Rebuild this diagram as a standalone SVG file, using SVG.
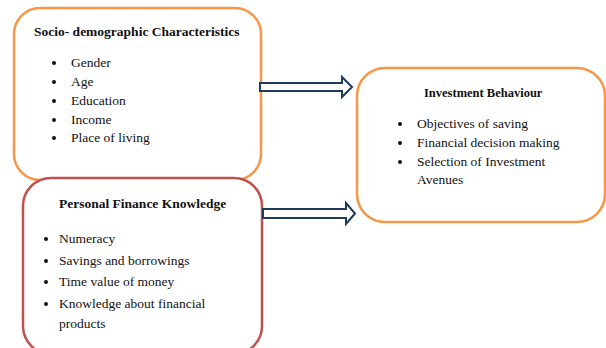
<svg xmlns="http://www.w3.org/2000/svg" width="606" height="348" viewBox="0 0 606 348">
  <defs>
    <style>
      .box { fill: #ffffff; stroke-width: 2.5; }
      .orange { stroke: #F79646; }
      .red { stroke: #C0504D; }
      .title { font-family: "Liberation Serif", "Times New Roman", serif; font-size: 13.5px; font-weight: bold; fill: #111111; }
      .item { font-family: "Liberation Serif", "Times New Roman", serif; font-size: 13.5px; fill: #111111; }
      .dot { fill: #111111; }
      .arrow { fill: #ffffff; stroke: #1F3A5F; stroke-width: 2; stroke-linejoin: miter; }
    </style>
  </defs>
  <rect width="606" height="348" fill="#ffffff"/>

  <g id="socio-demographic">
    <rect class="box orange" x="14" y="8" width="247" height="172" rx="26" ry="26"/>
    <text class="title" x="34" y="36">Socio- demographic Characteristics</text>
    <circle class="dot" cx="54" cy="63" r="2"/>
    <text class="item" x="71" y="67">Gender</text>
    <circle class="dot" cx="54" cy="82" r="2"/>
    <text class="item" x="71" y="86">Age</text>
    <circle class="dot" cx="54" cy="101" r="2"/>
    <text class="item" x="71" y="105">Education</text>
    <circle class="dot" cx="54" cy="120" r="2"/>
    <text class="item" x="71" y="124">Income</text>
    <circle class="dot" cx="54" cy="138" r="2"/>
    <text class="item" x="71" y="142">Place of living</text>
  </g>

  <g id="personal-finance-knowledge">
    <rect class="box red" x="23" y="178" width="239" height="176" rx="28" ry="28"/>
    <text class="title" x="59" y="208">Personal Finance Knowledge</text>
    <circle class="dot" cx="46" cy="239" r="2"/>
    <text class="item" x="59" y="243">Numeracy</text>
    <circle class="dot" cx="46" cy="261" r="2"/>
    <text class="item" x="59" y="265">Savings and borrowings</text>
    <circle class="dot" cx="46" cy="282" r="2"/>
    <text class="item" x="59" y="286">Time value of money</text>
    <circle class="dot" cx="46" cy="304" r="2"/>
    <text class="item" x="59" y="308">Knowledge about financial</text>
    <text class="item" x="59" y="328">products</text>
  </g>

  <g id="investment-behaviour">
    <rect class="box orange" x="357" y="68" width="248" height="154" rx="28" ry="28"/>
    <text class="title" x="424" y="97" style="font-size:12.5px">Investment Behaviour</text>
    <circle class="dot" cx="400" cy="124" r="2"/>
    <text class="item" x="417" y="128">Objectives of saving</text>
    <circle class="dot" cx="400" cy="143" r="2"/>
    <text class="item" x="417" y="147">Financial decision making</text>
    <circle class="dot" cx="400" cy="162" r="2"/>
    <text class="item" x="417" y="166">Selection of Investment</text>
    <text class="item" x="417" y="184">Avenues</text>
  </g>

  <g id="connectors">
    <path class="arrow" d="M260,83 H342 V77 L352,87 L342,97 V91 H260 Z"/>
    <path class="arrow" d="M263,209 H346 V203 L355,213.5 L346,224 V218 H263 Z"/>
  </g>
</svg>
